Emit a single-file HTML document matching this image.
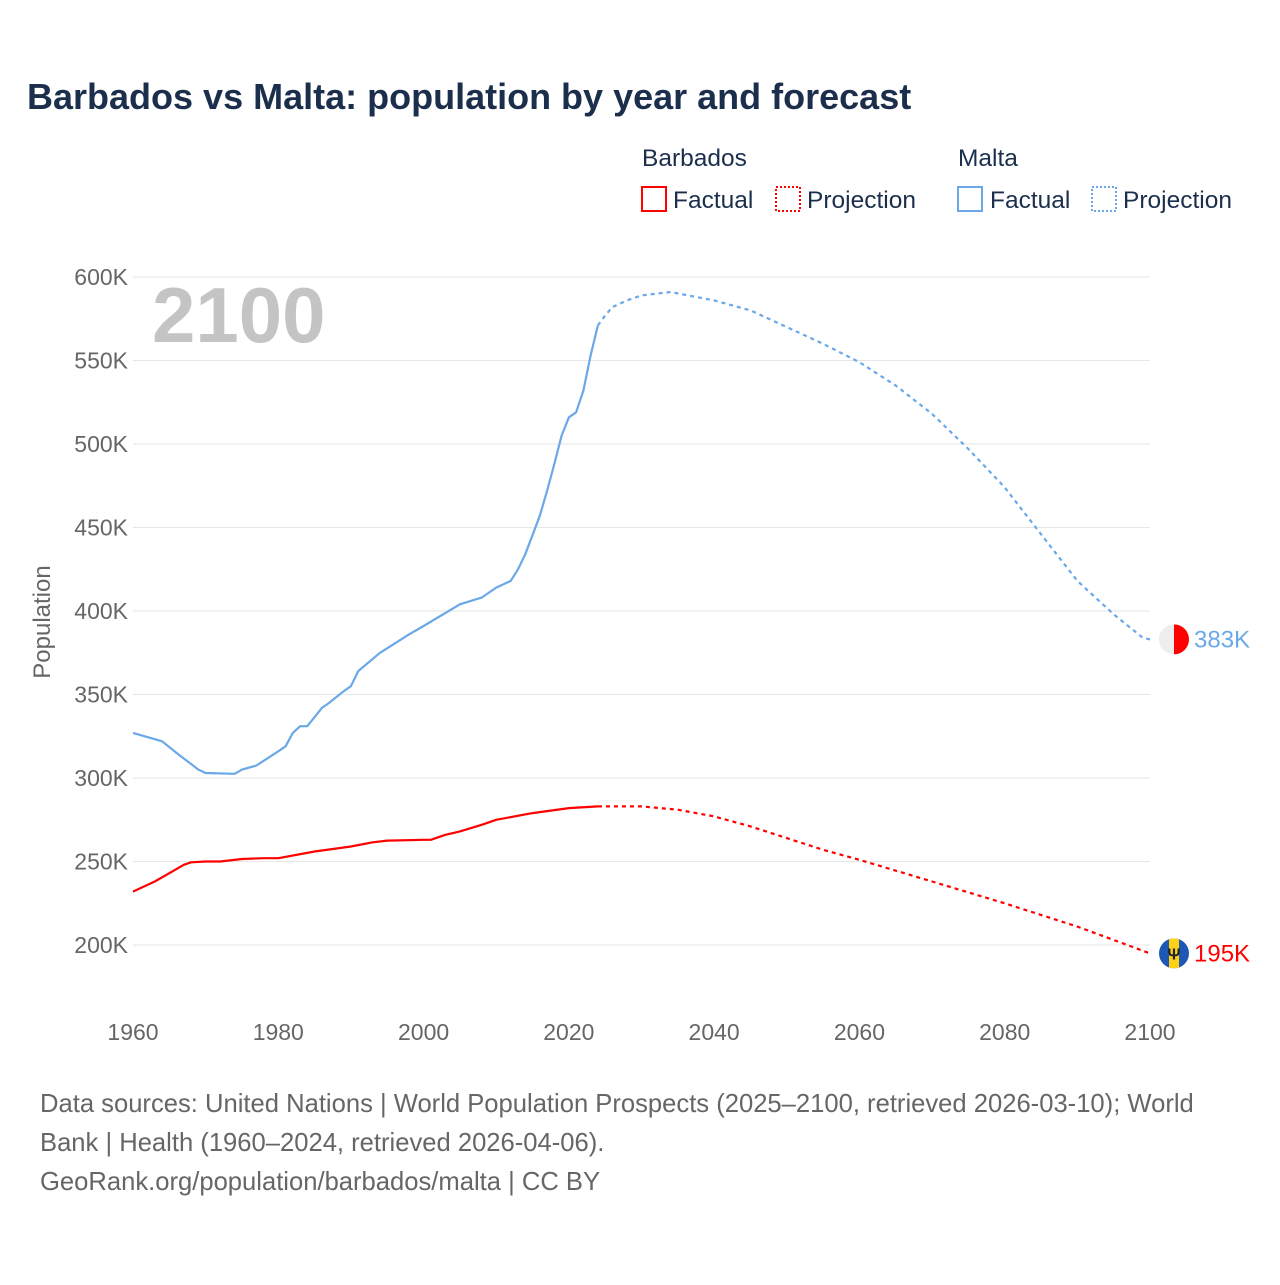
<!DOCTYPE html>
<html><head><meta charset="utf-8">
<style>
body{margin:0;background:#fff;width:1280px;height:1280px;overflow:hidden;font-family:"Liberation Sans",sans-serif;}
svg text{font-family:"Liberation Sans",sans-serif;}
</style></head>
<body>
<svg id="chart" width="1280" height="1280" viewBox="0 0 1280 1280" xmlns="http://www.w3.org/2000/svg">
<text x="27" y="109" font-size="36" font-weight="bold" fill="#1b2f4d">Barbados vs Malta: population by year and forecast</text>
<g font-size="24.5" fill="#1b2f4d">
<text x="642" y="166">Barbados</text>
<text x="958" y="166">Malta</text>
<rect x="642" y="187" width="24" height="24" fill="none" stroke="#f00" stroke-width="2"/>
<text x="673" y="208">Factual</text>
<rect x="776" y="187" width="24" height="24" fill="none" stroke="#f00" stroke-width="2" stroke-dasharray="2 2"/>
<text x="807" y="208">Projection</text>
<rect x="958" y="187" width="24" height="24" fill="none" stroke="#6aa8e8" stroke-width="2"/>
<text x="990" y="208">Factual</text>
<rect x="1092" y="187" width="24" height="24" fill="none" stroke="#6aa8e8" stroke-width="2" stroke-dasharray="2 2"/>
<text x="1123" y="208">Projection</text>
</g>
<text x="152" y="342" font-size="78" font-weight="bold" fill="#c4c4c4">2100</text>
<text transform="translate(50,622) rotate(-90)" text-anchor="middle" font-size="24" fill="#666">Population</text>
<g id="grid"></g><g id="series"></g>
<g font-size="25.6" fill="#666">
<text x="40" y="1112">Data sources: United Nations | World Population Prospects (2025–2100, retrieved 2026-03-10); World</text>
<text x="40" y="1151">Bank | Health (1960–2024, retrieved 2026-04-06).</text>
<text x="40" y="1190">GeoRank.org/population/barbados/malta | CC BY</text>
</g>
</svg>
<script>
const yTicks=[200,250,300,350,400,450,500,550,600];
const xTicks=[1960,1980,2000,2020,2040,2060,2080,2100];
const maltaFactYears=[1960,1964,1966,1969,1970,1974,1975,1977,1980,1981,1982,1983,1984,1986,1987,1989,1990,1991,1994,1998,2000,2005,2008,2010,2012,2013,2014,2016,2017,2018,2019,2020,2021,2022,2023,2024];
const maltaFact=[327,322,315,305,303,302.5,305,307.5,316,319,327,331,331,342,345,352,355,364,375,386,391,404,408,414,418,425,434,457,472,488,505,516,519,532,553,571];
const maltaProjYears=[2024,2025,2026,2028,2030,2034,2040,2045,2050,2055,2060,2065,2070,2075,2080,2085,2090,2095,2099,2100];
const maltaProj=[571,577,582,586,589,591,586,580,570,560,549,535,518,497,474,446,418,398,384,383];
const barbFactYears=[1960,1963,1965,1967,1968,1970,1972,1975,1978,1980,1985,1990,1993,1995,2000,2001,2003,2005,2008,2010,2015,2020,2024];
const barbFact=[232,238,243,248,249.5,250,250,251.5,252,252,256,259,261.5,262.5,263,263,266,268,272,275,279,282,283];
const barbProjYears=[2024,2030,2035,2040,2045,2050,2055,2060,2070,2080,2090,2100];
const barbProj=[283,283,281,277,271,264,257,251,238,225,211,195];
const NS="http://www.w3.org/2000/svg";
const X=y=>133+(y-1960)*(1017/140);
const Y=v=>945-(v-200)*(668/400);
function mk(t,a,p){const e=document.createElementNS(NS,t);for(const k in a)e.setAttribute(k,a[k]);p.appendChild(e);return e;}
const grid=document.getElementById('grid'),ser=document.getElementById('series');
yTicks.forEach(v=>{
 const l=mk('line',{x1:133,x2:1150,y1:Y(v),y2:Y(v),stroke:'#e6e6e6','stroke-width':1},grid);
 
 
 const t=mk('text',{x:128,y:Y(v)+8,'text-anchor':'end','font-size':23,fill:'#666'},grid);
 t.textContent=v+'K';
 
 
});
xTicks.forEach(y=>{
 const t=mk('text',{x:X(y),y:1040,'text-anchor':'middle','font-size':23,fill:'#666'},grid);
 t.textContent=y;
 
 
});
function line(years,vals,color,dash,name){
 const d=years.map((y,i)=>(i?'L':'M')+X(y).toFixed(1)+' '+Y(vals[i]).toFixed(1)).join(' ');
 const a={d:d,fill:'none',stroke:color,'stroke-width':2.2,'stroke-linejoin':'round'};
 if(dash)a['stroke-dasharray']='4 4';
 const p=mk('path',a,ser);
 
 
}
line(maltaFactYears,maltaFact,'#6aa8e8',false,'malta-factual-line');
line(maltaProjYears,maltaProj,'#6aa8e8',true,'malta-projection-line');
line(barbFactYears,barbFact,'#f00',false,'barbados-factual-line');
line(barbProjYears,barbProj,'#f00',true,'barbados-projection-line');
const mEnd=maltaProj[maltaProj.length-1],bEnd=barbProj[barbProj.length-1];
const cx=1174;
let g=mk('g',{},ser);


const cm=mk('clipPath',{id:'cm'},g);mk('circle',{cx:cx,cy:Y(mEnd),r:15},cm);
mk('rect',{x:cx-15,y:Y(mEnd)-15,width:15,height:30,fill:'#eee','clip-path':'url(#cm)'},g);
mk('rect',{x:cx,y:Y(mEnd)-15,width:15,height:30,fill:'#f00','clip-path':'url(#cm)'},g);
let t=mk('text',{x:1194,y:Y(mEnd)+8,'font-size':24,fill:'#6aa8e8'},ser);
t.textContent=Math.round(mEnd)+'K';


g=mk('g',{},ser);


const cb=mk('clipPath',{id:'cb'},g);mk('circle',{cx:cx,cy:Y(bEnd),r:15},cb);
mk('rect',{x:cx-15,y:Y(bEnd)-15,width:30,height:30,fill:'#1f57b5','clip-path':'url(#cb)'},g);
mk('rect',{x:cx-5,y:Y(bEnd)-15,width:10,height:30,fill:'#fcd116','clip-path':'url(#cb)'},g);
const tr=mk('text',{x:cx,y:Y(bEnd)+6,'text-anchor':'middle','font-size':16,'font-weight':'bold',fill:'#222'},g);tr.textContent='Ψ';
t=mk('text',{x:1194,y:Y(bEnd)+8,'font-size':24,fill:'#f00'},ser);
t.textContent=Math.round(bEnd)+'K';


</script>
</body></html>
